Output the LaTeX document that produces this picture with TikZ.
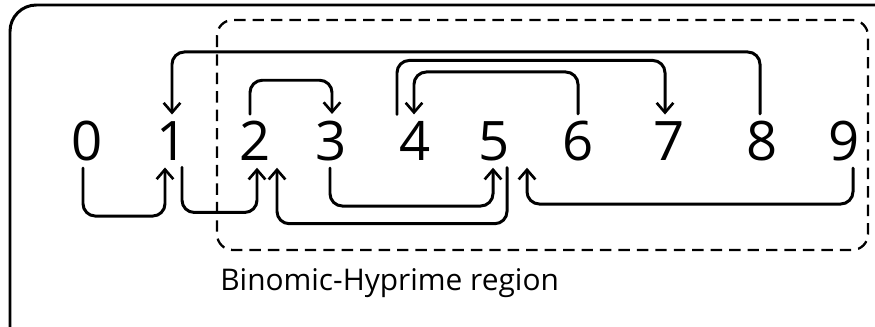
\documentclass[tikz,border=0pt]{standalone}
\usepackage{fontspec}
\setmainfont{Open Sans}
\usetikzlibrary{arrows.meta,positioning,calc}
\tikzset{
  digit/.style={font=\fontsize{31}{34}\selectfont, inner sep=0pt, outer sep=4pt},
  hop/.style={-{Straight Barb[length=5.5pt,width=9.5pt,line width=1.5pt]},
              line width=1.7pt, rounded corners=7pt, line cap=round},
  region/.style={dashed, dash pattern=on 6.5pt off 4pt, line width=1.3pt,
                 rounded corners=9pt},
  frame/.style={line width=1.7pt, rounded corners=15pt},
  tag/.style={font=\fontsize{17}{20}\selectfont, anchor=west, inner sep=0pt}
}

\begin{document}
\begin{tikzpicture}[x=0.02cm, y=-0.02cm]
  \useasboundingbox (0,0) rectangle (875,327);
  \clip (0,0) rectangle (875,327);

  % outer frame, runs off the page
  \draw[frame] (10,5) rectangle (930,380);

  % dashed region
  \draw[region] (217,20) rectangle (868,250);
  \node[tag] (lbl) at (220,283) {Binomic-Hyprime region};

  % digits
  \foreach \d/\x in {0/87,1/172,2/255,3/331,4/415,5/494,6/578,7/669,8/762,9/844}
    \node[digit] (n\d) at (\x,141) {\d};

  % hops below the row
  \draw[hop] ($(n0.south)+(-4,0)$) -- ++(0,48) -| ($(n1.south)+(-7,0)$);
  \draw[hop] ($(n1.south)+(10,0)$) -- ++(0,45) -| ($(n2.south)+(2,0)$);
  \draw[hop] ($(n3.south)+(-1,0)$) -- ++(0,38) -| ($(n5.south)+(-1,0)$);
  \draw[hop] ($(n5.south)+(13,0)$) -- ++(0,56) -| ($(n2.south)+(22,0)$);
  \draw[hop] ($(n9.south)+(9,0)$) -- ++(0,36) -| ($(n5.south)+(33,0)$);

  % hops above the row
  \draw[hop] ($(n2.north)+(-5,0)$) -- ++(0,-34) -| ($(n3.north)+(1,0)$);
  \draw[hop] ($(n8.north)+(-2,0)$) -- ++(0,-62) -| (n1.north);
  \draw[hop] ($(n4.north)+(-18,0)$) -- ++(0,-54) -| ($(n7.north)+(-4,0)$);
  \draw[hop] (n6.north) -- ++(0,-42) -| ($(n4.north)+(-1,0)$);
\end{tikzpicture}
\end{document}
